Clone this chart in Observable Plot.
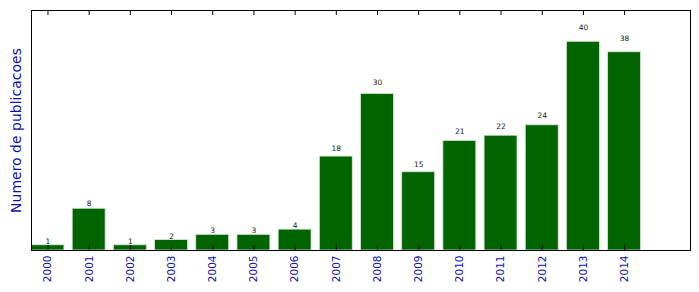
<!DOCTYPE html>
<html>
<head>
<meta charset="utf-8">
<script src="https://cdn.jsdelivr.net/npm/d3@7"></script>
<script src="https://cdn.jsdelivr.net/npm/@observablehq/plot@0.6"></script>
<style>
  html, body { margin: 0; padding: 0; background: #fff; }
  #chart svg { display: block; }
</style>
</head>
<body>
<div id="chart"></div>
<script>
const years = ["2000","2001","2002","2003","2004","2005","2006","2007","2008","2009","2010","2011","2012","2013","2014"];
const counts = [1, 8, 1, 2, 3, 3, 4, 18, 30, 15, 21, 22, 24, 40, 38];
const yLabel = "Numero de publicacoes";

const data = years.map((y, i) => ({year: y, i, count: counts[i]}));
const tickPos = data.map(d => d.i + 0.4);
const fmt = v => years[Math.round(v - 0.4)];

const blue = "#1010a8";
const frameH = 292 - 10 - 42;

const chart = Plot.plot({
  width: 699,
  height: 292,
  marginLeft: 31,
  marginRight: 9,
  marginTop: 10,
  marginBottom: 42,
  style: {fontFamily: "DejaVu Sans, sans-serif", background: "white"},
  x: {domain: [0, 16]},
  y: {domain: [0, 46]},
  marks: [
    Plot.rectY(data, {x1: d => d.i, x2: d => d.i + 0.8, y1: 0, y2: "count", fill: "#006400", stroke: "#d8e8d8", strokeWidth: 0.8}),
    Plot.text(data, {x: d => d.i + 0.4, y: d => d.count * 1.05, text: d => String(d.count), lineAnchor: "bottom", dy: -1, fontSize: 7.5, fill: "#222"}),
    Plot.ruleX(tickPos, {insetTop: frameH - 5, stroke: "black"}),
    Plot.ruleX(tickPos, {insetBottom: frameH - 5, stroke: "black"}),
    Plot.axisX({anchor: "bottom", ticks: tickPos, tickFormat: fmt, tickSize: 0, tickRotate: -90, tickPadding: 5, fontSize: 10.5, color: blue, label: null}),
    Plot.axisY({ticks: [], label: null}),
    Plot.frame({stroke: "black", strokeWidth: 1}),
    Plot.text([yLabel], {frameAnchor: "left", textAnchor: "middle", rotate: -90, dx: -15, fontSize: 14, fill: blue, text: d => d})
  ]
});
document.getElementById("chart").appendChild(chart);
</script>
</body>
</html>
